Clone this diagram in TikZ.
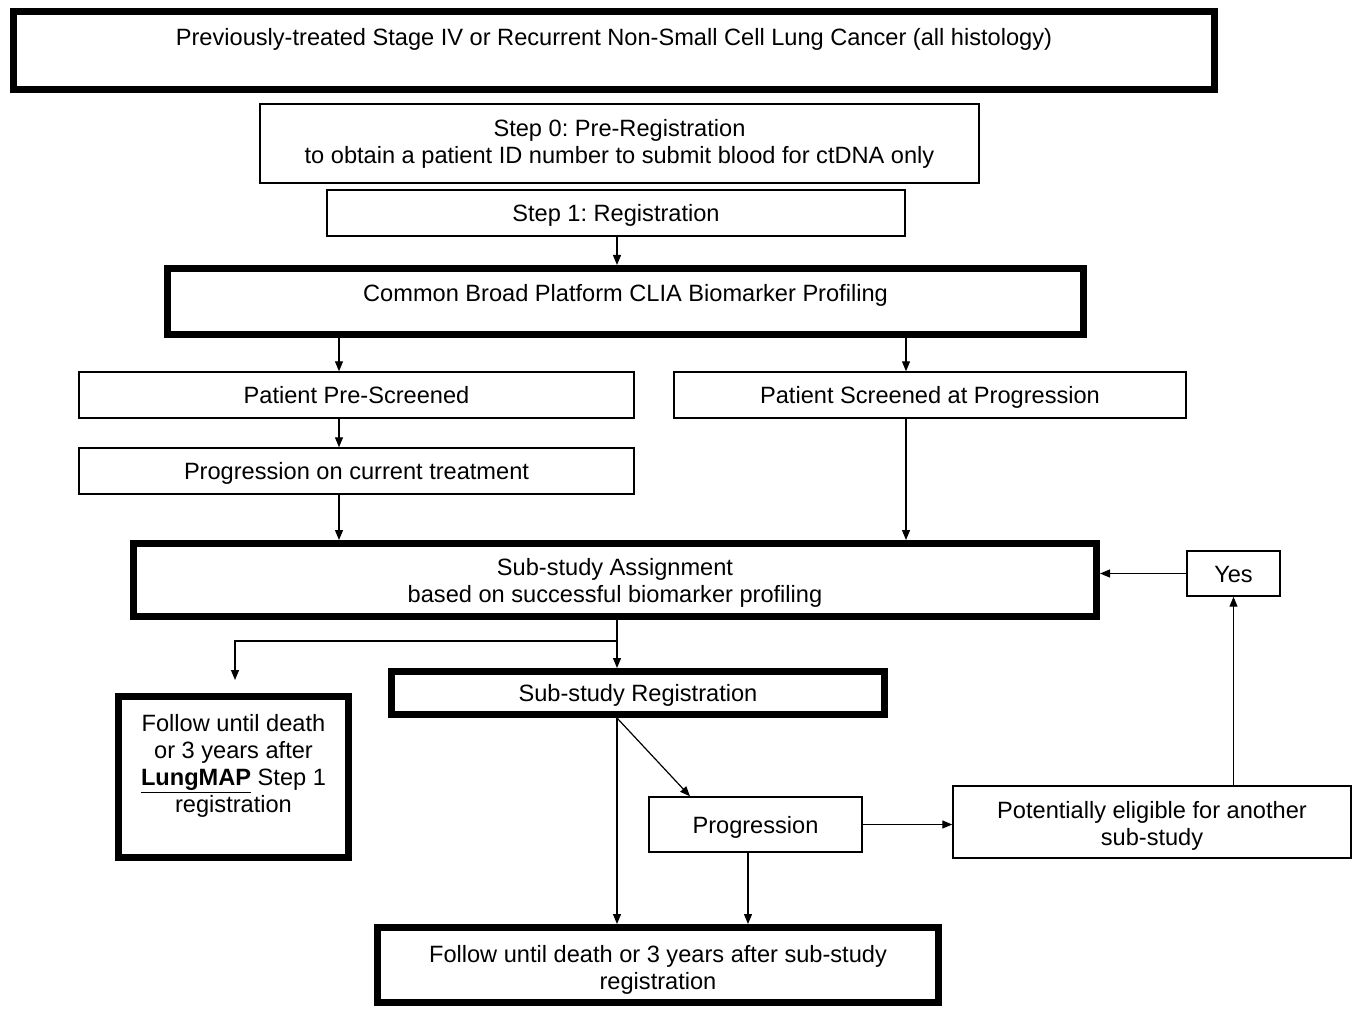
\documentclass[tikz,border=0pt]{standalone}
\usepackage{fontspec}
\setmainfont{Liberation Sans}
\usetikzlibrary{shapes,arrows.meta,positioning}
\frenchspacing
\newcommand\tdrop[1]{\rule{0pt}{#1}}% pushes a first line down

\begin{document}
\begin{tikzpicture}[% pixel grid of the page, y downwards
		x=0.75pt,y=-0.75pt,
		every node/.style={
			align=center,	% use this so that the "\\" for line break works
			inner sep=0pt,
			font=\fontsize{17.7}{20.25}\selectfont
		},
		thinbox/.style={rectangle,draw=black,line width=1.1pt},
		thickbox/.style={rectangle,draw=black,line width=5.25pt},
		oneline/.style={text height=14.6pt,text depth=1.4pt},	% same height for single lines
		every edge/.style={draw,line width=0.9pt},
		>={Triangle[length=7.5pt,width=6pt]}
	]
	\useasboundingbox (0,0) rectangle (1359,1009);
	% boxes
	\node[thickbox,minimum width=900.75pt,minimum height=58.5pt](B1) at (614,50.5){Previously-treated Stage IV or Recurrent Non-Small Cell Lung Cancer (all histology)\\\mbox{}};
	\node[thinbox,minimum width=539.25pt,minimum height=59.25pt](S0) at (619.5,143.5){Step 0: Pre-Registration\\to obtain a patient ID number to submit blood for ctDNA only};
	\node[thinbox,oneline,minimum width=433.5pt,minimum height=34.5pt](S1) at (616,213){Step 1: Registration};
	\node[thickbox,minimum width=687pt,minimum height=49.5pt](CBP) at (625.5,301.5){Common Broad Platform CLIA Biomarker Profiling\\[-7pt]\mbox{}};
	\node[thinbox,oneline,minimum width=416.25pt,minimum height=34.5pt](PPS) at (356.5,395){Patient Pre-Screened};
	\node[thinbox,oneline,minimum width=384pt,minimum height=34.5pt](PSP) at (930,395){Patient Screened at Progression};
	\node[thinbox,oneline,minimum width=416.25pt,minimum height=34.5pt](PC) at (356.5,471){Progression on current treatment};
	\node[thickbox,minimum width=722.25pt,minimum height=54.75pt](SSA) at (615,580){\tdrop{17.2pt}Sub-study Assignment\\based on successful biomarker profiling};
	\node[thinbox,oneline,minimum width=69.75pt,minimum height=33.75pt](Yes) at (1233.5,573.5){Yes};
	\node[thickbox,minimum width=172.5pt,minimum height=120.75pt](LF) at (233.5,777){Follow until death\\or 3 years after\\\underline{\textbf{LungMAP}} Step 1\\registration\\\mbox{}};
	\node[thickbox,oneline,minimum width=369.75pt,minimum height=32.25pt](SSR) at (638,693){Sub-study Registration};
	\node[thinbox,oneline,minimum width=159.75pt,minimum height=41.25pt](Prog) at (755.5,824.5){Progression};
	\node[thinbox,minimum width=298.5pt,minimum height=54pt](Pot) at (1152,822){\tdrop{18.9pt}Potentially eligible for another\\sub-study};
	\node[thickbox,minimum width=420.75pt,minimum height=56.25pt](FB) at (658,965){\tdrop{20.4pt}Follow until death or 3 years after sub-study\\registration};
	% columns of the connectors
	\coordinate (c1) at (339,0);
	\coordinate (c2) at (906,0);
	\coordinate (c3) at (617,0);
	\coordinate (c4) at (748,0);
	\coordinate (br) at (617,641);
	\coordinate (lfin) at (235,680);
	\coordinate (dg) at (690,0);
	\path[->]
	(S1.south -| c3) edge [] (CBP.north -| c3)
	(CBP.south -| c1) edge [] (PPS.north -| c1)
	(CBP.south -| c2) edge [] (PSP.north -| c2)
	(PPS.south -| c1) edge [] (PC.north -| c1)
	(PC.south -| c1) edge [] (SSA.north -| c1)
	(PSP.south -| c2) edge [] (SSA.north -| c2)
	(SSA.south -| c3) edge [] (SSR.north -| c3)
	(Yes.west) edge [] (SSA.east |- Yes.west)
	(SSR.south -| c3) edge [] (Prog.north -| dg)
	(SSR.south -| c3) edge [] (FB.north -| c3)
	(Prog.south -| c4) edge [] (FB.north -| c4)
	(Prog.east) edge [] (Pot.west |- Prog.east)
	(Pot.north -| Yes.south) edge [] (Yes.south)
	;
	\draw[->,line width=0.9pt] (br) -| (lfin);
\end{tikzpicture}
\end{document}
